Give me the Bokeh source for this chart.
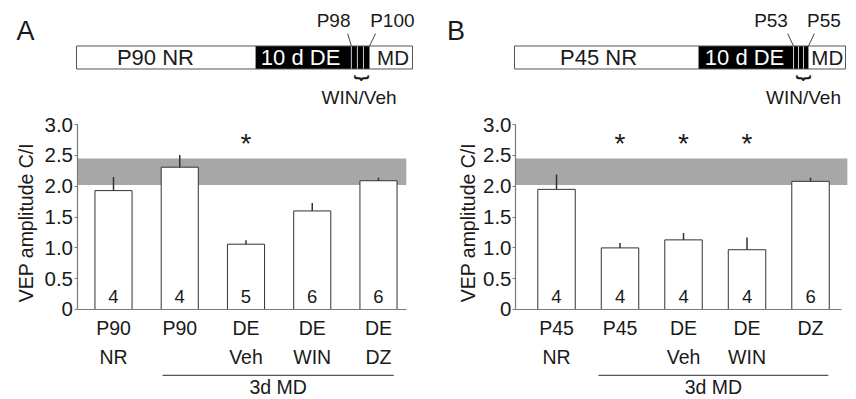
import math
from bokeh.plotting import figure
from bokeh.models import Range1d, LinearAxis, FixedTicker
from bokeh.layouts import row
from bokeh.embed import file_html
from bokeh.resources import INLINE
from bokeh.core.properties import value

FONT = "Liberation Sans"

# ---------------- data ----------------
a_categories = ["P90\nNR", "P90", "DE\nVeh", "DE\nWIN", "DE\nDZ"]
a_means = [1.93, 2.31, 1.06, 1.60, 2.09]
a_sem = [0.22, 0.20, 0.065, 0.13, 0.05]
a_n = [4, 4, 5, 6, 6]
a_sig = [False, False, True, False, False]

b_categories = ["P45\nNR", "P45", "DE\nVeh", "DE\nWIN", "DZ"]
b_means = [1.95, 1.00, 1.13, 0.97, 2.08]
b_sem = [0.24, 0.08, 0.11, 0.20, 0.06]
b_n = [4, 4, 4, 4, 6]
b_sig = [False, True, True, True, False]

normal_band = [2.02, 2.45]
y_ticks = [0, 0.5, 1.0, 1.5, 2.0, 2.5, 3.0]
y_tick_labels = ["0", "0.5", "1.0", "1.5", "2.0", "2.5", "3.0"]
y_label = "VEP amplitude C/I"
group_label = "3d MD"
group_members = [1, 4]

a_timeline = ["P90 NR", "10 d DE", "MD"]
a_days = ["P98", "P100"]
b_timeline = ["P45 NR", "10 d DE", "MD"]
b_days = ["P53", "P55"]
drug_label = "WIN/Veh"

# ---------------- layout (styles / positions) ----------------
W, H = 428, 399
Y_RANGE = (-1.461, 5.016)
TLY_RANGE = (-14.37, 2.978)   # schematic rows: box spans 0..1

LAYOUT = {
    "A": dict(xr=(-1.706, 4.755), yaxis_x=-0.551, xaxis_end=4.42, band_end=4.42,
              bar_w=0.56, pad=(0.26, 0.23), ylab_x=-1.32,
              tlx=(-0.2262, 1.0476), de=(0.533, 0.872), stripes=[0.818, 0.836, 0.854],
              txt_x=[0.235, 0.667, 0.942], day_x=[0.765, 0.940], day_top=[0.807, 0.890],
              brace_x=0.844, drug_x=0.841, letter_x=-0.152),
    "B": dict(xr=(-2.016, 4.724), yaxis_x=-0.646, xaxis_end=4.49, band_end=4.58,
              bar_w=0.59, pad=(0.34, 0.28), ylab_x=-1.394,
              tlx=(-0.2598, 1.0332), de=(0.556, 0.888), stripes=[0.843, 0.858, 0.873],
              txt_x=[0.254, 0.695, 0.945], day_x=[0.775, 0.935], day_top=[0.825, 0.906],
              brace_x=0.869, drug_x=0.873, letter_x=-0.177),
}

AX = "#7a7a7a"
INK = "#1a1a1a"


def make_panel(letter, cats, means, sem, ns, sig, timeline, days):
    c = LAYOUT[letter]
    p = figure(width=W, height=H, output_backend="svg", toolbar_location=None,
               x_range=Range1d(*c["xr"]), y_range=Range1d(*Y_RANGE),
               x_axis_location=None, y_axis_location=None,
               min_border=0, min_border_left=0, min_border_right=0,
               min_border_top=0, min_border_bottom=0,
               outline_line_color=None, background_fill_color="white",
               border_fill_color="white")
    p.grid.grid_line_color = None
    p.extra_x_ranges = {"tl": Range1d(*c["tlx"])}
    p.extra_y_ranges = {"tly": Range1d(*TLY_RANGE)}

    idx = list(range(len(cats)))

    # normal range band
    p.quad(left=[c["yaxis_x"]], right=[c["band_end"]], bottom=[normal_band[0]],
           top=[normal_band[1]], fill_color="#a7a7a7", line_color=None)

    # bars + error bars
    p.vbar(x=idx, width=c["bar_w"], bottom=0, top=means, fill_color="white",
           line_color="#333333", line_width=1)
    p.segment(x0=idx, y0=means, x1=idx, y1=[m + s for m, s in zip(means, sem)],
              line_color="#333333", line_width=1.5)

    # n inside bars
    p.text(x=idx, y=[0.206] * len(idx), text=[str(n) for n in ns],
           text_font=value(FONT), text_font_size="18.5px", text_align="center",
           text_baseline="middle", text_color=INK)

    # significance stars
    sx = [i for i, s in zip(idx, sig) if s]
    p.text(x=sx, y=[2.69] * len(sx), text=["*"] * len(sx), text_font=value(FONT),
           text_font_size="28px", text_align="center", text_baseline="middle",
           text_color=INK)

    # y label
    p.text(x=[c["ylab_x"]], y=[1.41], text=[y_label], angle=math.pi / 2,
           text_font=value(FONT), text_font_size="19.5px", text_align="center",
           text_baseline="middle", text_color=INK)

    # group bracket
    g0 = group_members[0] - c["pad"][0]
    g1 = group_members[1] + c["pad"][1]
    p.segment(x0=[g0], y0=[-1.071], x1=[g1], y1=[-1.071], line_color="#555555",
              line_width=1.2)
    p.text(x=[(g0 + g1) / 2], y=[-1.255], text=[group_label], text_font=value(FONT),
           text_font_size="19.5px", text_align="center", text_baseline="middle",
           text_color=INK)

    # axes
    yax = LinearAxis(fixed_location=c["yaxis_x"], bounds=(0, 3),
                     ticker=FixedTicker(ticks=y_ticks, minor_ticks=[]),
                     major_label_overrides=dict(zip(y_ticks, y_tick_labels)),
                     axis_line_color=AX, axis_line_width=1.2,
                     major_tick_line_color=AX, major_tick_out=3, major_tick_in=0,
                     minor_tick_line_color=None,
                     major_label_text_font=FONT, major_label_text_font_size="20.5px",
                     major_label_text_color=INK, major_label_standoff=1)
    p.add_layout(yax, "left")
    xax = LinearAxis(fixed_location=0, bounds=(c["yaxis_x"], c["xaxis_end"]),
                     ticker=FixedTicker(ticks=idx, minor_ticks=[]),
                     major_label_overrides={i: t for i, t in zip(idx, cats)},
                     axis_line_color=AX, axis_line_width=1.2,
                     major_tick_line_color=None, minor_tick_line_color=None,
                     major_label_text_font=FONT, major_label_text_font_size="19.5px",
                     major_label_text_color=INK, major_label_standoff=2,
                     major_label_text_line_height=1.28)
    p.add_layout(xax, "below")

    # ------------- schematic timeline -------------
    kw = dict(x_range_name="tl", y_range_name="tly")
    de0, de1 = c["de"]
    p.quad(left=[de0], right=[de1], bottom=[0], top=[1], fill_color="black",
           line_color=None, **kw)
    st = c["stripes"]
    p.segment(x0=st, y0=[0] * len(st), x1=st, y1=[1] * len(st),
              line_color="#cfcfcf", line_width=1, **kw)
    p.quad(left=[0], right=[1], bottom=[0], top=[1], fill_color=None,
           line_color="#555555", line_width=1, **kw)
    colors = [INK, "white", INK]
    sizes = ["22px", "22px", "20.5px"]
    for t, xx, col, fs in zip(timeline, c["txt_x"], colors, sizes):
        p.text(x=[xx], y=[0.5], text=[t], text_font=value(FONT), text_font_size=fs,
               text_align="center", text_baseline="middle", text_color=col, **kw)
    p.text(x=c["day_x"], y=[2.13, 2.13], text=days, text_font=value(FONT),
           text_font_size="19px", text_align="center", text_baseline="middle",
           text_color=INK, **kw)
    p.segment(x0=c["day_top"], y0=[1.54, 1.54], x1=[st[0], de1], y1=[1.0, 1.0],
              line_color="#444444", line_width=1, **kw)
    p.text(x=[c["brace_x"]], y=[-0.40], text=["{"], angle=math.pi / 2,
           text_font=value(FONT), text_font_size="16px", text_font_style="bold",
           text_align="center", text_baseline="middle", text_color=INK, **kw)
    p.text(x=[c["drug_x"]], y=[-1.22], text=[drug_label], text_font=value(FONT),
           text_font_size="19px", text_align="center", text_baseline="middle",
           text_color=INK, **kw)
    p.text(x=[c["letter_x"]], y=[1.67], text=[letter], text_font=value(FONT),
           text_font_size="27px", text_align="center", text_baseline="middle",
           text_color=INK, **kw)
    return p


pA = make_panel("A", a_categories, a_means, a_sem, a_n, a_sig, a_timeline, a_days)
pB = make_panel("B", b_categories, b_means, b_sem, b_n, b_sig, b_timeline, b_days)
layout = row(pA, pB)

open("out.html", "w").write(file_html(layout, INLINE, title="VEP amplitude"))
